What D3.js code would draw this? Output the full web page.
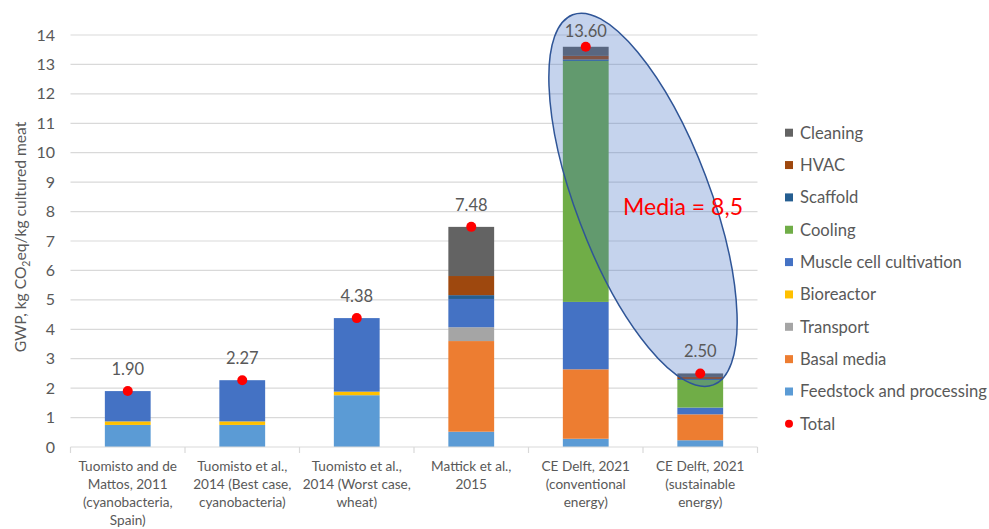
<!DOCTYPE html>
<html>
<head>
<meta charset="utf-8">
<script src="https://cdn.jsdelivr.net/npm/d3@7/dist/d3.min.js"></script>
<style>
  body { margin: 0; background: #fff; }
  text { font-family: Lato, "Open Sans", sans-serif; fill: #595959; }
</style>
</head>
<body>
<div id="chart"></div>
<script>
var width = 989
var height = 529

// data
var categories = ['Tuomisto 2011', 'Tuomisto 2014 best', 'Tuomisto 2014 worst', 'Mattick 2015', 'CE Delft conv', 'CE Delft sust']
var catLabels = [
  ['Tuomisto and de', 'Mattos, 2011', '(cyanobacteria,', 'Spain)'],
  ['Tuomisto et al.,', '2014 (Best case,', 'cyanobacteria)'],
  ['Tuomisto et al.,', '2014 (Worst case,', 'wheat)'],
  ['Mattick et al.,', '2015'],
  ['CE Delft, 2021', '(conventional', 'energy)'],
  ['CE Delft, 2021', '(sustainable', 'energy)']
]
var feedstock  = [0.75, 0.75, 1.76, 0.52, 0.28, 0.23]
var basal      = [0, 0, 0, 3.08, 2.36, 0.88]
var transport  = [0, 0, 0, 0.47, 0, 0]
var bioreactor = [0.12, 0.12, 0.12, 0, 0, 0]
var muscle     = [1.03, 1.40, 2.50, 0.96, 2.29, 0.23]
var cooling    = [0, 0, 0, 0, 8.19, 0.94]
var scaffold   = [0, 0, 0, 0.13, 0.05, 0.03]
var hvac       = [0, 0, 0, 0.65, 0.12, 0.07]
var cleaning   = [0, 0, 0, 1.67, 0.31, 0.12]
var totals     = [1.90, 2.27, 4.38, 7.48, 13.60, 2.50]
var yTicks = [0, 1, 2, 3, 4, 5, 6, 7, 8, 9, 10, 11, 12, 13, 14]

var series = [
  {key: 'feedstock', name: 'Feedstock and processing', values: feedstock, color: '#5b9bd5'},
  {key: 'basal', name: 'Basal media', values: basal, color: '#ed7d31'},
  {key: 'transport', name: 'Transport', values: transport, color: '#a5a5a5'},
  {key: 'bioreactor', name: 'Bioreactor', values: bioreactor, color: '#ffc000'},
  {key: 'muscle', name: 'Muscle cell cultivation', values: muscle, color: '#4472c4'},
  {key: 'cooling', name: 'Cooling', values: cooling, color: '#70ad47'},
  {key: 'scaffold', name: 'Scaffold', values: scaffold, color: '#255e91'},
  {key: 'hvac', name: 'HVAC', values: hvac, color: '#9e480e'},
  {key: 'cleaning', name: 'Cleaning', values: cleaning, color: '#636363'}
]

var table = categories.map(function(c, i) {
  var row = {cat: c}
  series.forEach(function(s) { row[s.key] = s.values[i] })
  return row
})

var svg = d3.select('#chart').append('svg').attr('width', width).attr('height', height)
svg.append('rect').attr('width', width).attr('height', height).attr('fill', '#fff')

var x = d3.scaleBand().domain(categories).range([70.5, 757.5]).paddingInner(0.6).paddingOuter(0.3)
var y = d3.scaleLinear().domain([0, 14]).range([447, 35])

// gridlines
svg.append('g').selectAll('line').data(yTicks.slice(1)).enter().append('line')
  .attr('x1', x.range()[0]).attr('x2', x.range()[1])
  .attr('y1', function(d) { return y(d) }).attr('y2', function(d) { return y(d) })
  .attr('stroke', '#d9d9d9').attr('stroke-width', 1.2)

// y tick labels
svg.append('g').selectAll('text').data(yTicks).enter().append('text')
  .attr('x', 55).attr('y', function(d) { return y(d) }).attr('dy', '0.35em')
  .attr('text-anchor', 'end').style('font-size', '16px').text(function(d) { return d })

// y title
var yt = svg.append('text').attr('transform', 'translate(26,237) rotate(-90)')
  .attr('text-anchor', 'middle').style('font-size', '15.6px')
yt.append('tspan').text('GWP, kg CO')
yt.append('tspan').attr('dy', 4).style('font-size', '10.5px').text('2')
yt.append('tspan').attr('dy', -4).text('eq/kg cultured meat')

// stacked bars
var stack = d3.stack().keys(series.map(function(s) { return s.key }))
var layers = stack(table)
svg.append('g').selectAll('g').data(layers).enter().append('g')
  .attr('fill', function(d, i) { return series[i].color })
  .selectAll('rect').data(function(d) { return d }).enter().append('rect')
  .attr('x', function(d) { return x(d.data.cat) })
  .attr('width', x.bandwidth())
  .attr('y', function(d) { return y(d[1]) })
  .attr('height', function(d) { return y(d[0]) - y(d[1]) })

// x axis
svg.append('line').attr('x1', x.range()[0]).attr('x2', x.range()[1])
  .attr('y1', y(0)).attr('y2', y(0)).attr('stroke', '#d9d9d9').attr('stroke-width', 1.2)
var bounds = d3.range(categories.length + 1).map(function(i) { return x.range()[0] + i * x.step() })
svg.append('g').selectAll('line').data(bounds).enter().append('line')
  .attr('x1', function(d) { return d }).attr('x2', function(d) { return d })
  .attr('y1', y(0)).attr('y2', y(0) + 6).attr('stroke', '#d9d9d9').attr('stroke-width', 1.2)

var cl = svg.append('g').selectAll('text').data(categories).enter().append('text')
  .attr('text-anchor', 'middle').style('font-size', '13.6px')
  .attr('x', function(d) { return x(d) + x.bandwidth() / 2 })
cl.each(function(d, i) {
  var t = d3.select(this)
  catLabels[i].forEach(function(line, k) {
    t.append('tspan').attr('x', x(d) + x.bandwidth() / 2).attr('y', 471 + k * 18).text(line)
  })
})

// median ellipse annotation
var ellX = (x(categories[4]) + x(categories[5])) / 2 + x.bandwidth() / 2
var ellY = y(8.4)
svg.append('ellipse')
  .attr('transform', 'translate(' + ellX + ',' + ellY + ') rotate(69.2)')
  .attr('rx', 198).attr('ry', 67)
  .attr('fill', '#4472c4').attr('fill-opacity', 0.31)
  .attr('stroke', '#2f5597').attr('stroke-width', 1.5)

// total points and labels
svg.append('g').selectAll('circle').data(totals).enter().append('circle')
  .attr('cx', function(d, i) { return x(categories[i]) + x.bandwidth() / 2 })
  .attr('cy', function(d) { return y(d) })
  .attr('r', 5).attr('fill', '#ff0000')
svg.append('g').selectAll('text').data(totals).enter().append('text')
  .attr('x', function(d, i) { return x(categories[i]) + x.bandwidth() / 2 })
  .attr('y', function(d) { return Math.max(y(d) - 22, 31) }).attr('dy', '0.35em')
  .attr('text-anchor', 'middle').style('font-size', '16.5px')
  .text(function(d) { return d.toFixed(2) })

svg.append('text').attr('x', 623).attr('y', 215)
  .style('font-size', '23px').style('fill', '#ff0000').text('Media = 8,5')

// legend
var legendItems = series.slice().reverse().map(function(s) { return {name: s.name, color: s.color, dot: false} })
legendItems.push({name: 'Total', color: '#ff0000', dot: true})
var lg = svg.append('g').selectAll('g').data(legendItems).enter().append('g')
  .attr('transform', function(d, i) { return 'translate(785,' + (132.7 + i * 32.35) + ')' })
lg.filter(function(d) { return !d.dot }).append('rect')
  .attr('x', 0).attr('y', -4).attr('width', 8).attr('height', 8).attr('fill', function(d) { return d.color })
lg.filter(function(d) { return d.dot }).append('circle')
  .attr('cx', 4).attr('cy', 0).attr('r', 4).attr('fill', function(d) { return d.color })
lg.append('text').attr('x', 15).attr('dy', '0.35em').style('font-size', '16.6px').text(function(d) { return d.name })
</script>
</body>
</html>
